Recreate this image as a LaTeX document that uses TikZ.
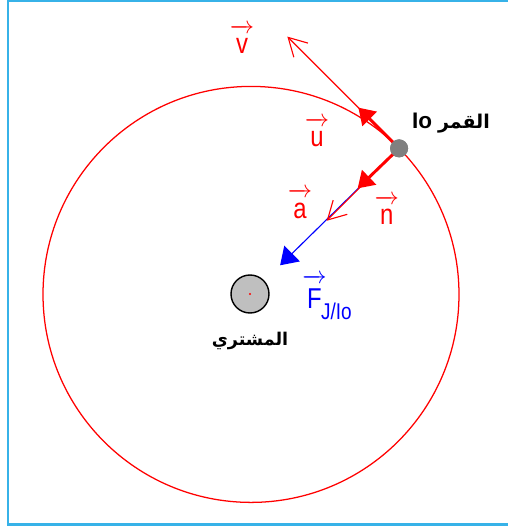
\documentclass[tikz,border=0pt]{standalone}
\usepackage{fontspec}
\setmainfont{Liberation Sans}
\newfontfamily\arabicfont[Script=Arabic]{DejaVu Sans}
\TeXXeTstate=1
\usetikzlibrary{arrows.meta,calc}
\definecolor{framec}{RGB}{55,178,232}
\newcommand{\vecname}[1]{\setbox0\hbox{\scalebox{1}[1.2]{#1}}%
  $\overrightarrow{\hbox{\kern3.5pt\rule{0pt}{\dimexpr\ht0+4.5pt\relax}\box0\kern3.5pt}}$}

\begin{document}
\begin{tikzpicture}[
  font=\fontsize{17}{20}\selectfont,
  >=Stealth,
  orbit/.style={red, line width=0.9pt},
  planet/.style={circle, draw=black, fill=black!25, line width=1pt, minimum size=0.95cm, inner sep=0pt},
  moon/.style={circle, fill=black!50, minimum size=0.45cm, inner sep=0pt},
  vecl/.style={text=red, inner sep=0pt, anchor=base},
  bodyl/.style={font=\fontsize{15}{18}\selectfont\bfseries, inner sep=0pt},
  thinv/.style={red, line width=0.8pt, -{Straight Barb[length=4.5mm,width=5mm]}},
  unitv/.style={red, line width=2.1pt, -{Triangle[length=4mm,width=5mm]}},
  forcev/.style={blue, line width=0.8pt, -{Triangle[length=4.2mm,width=5.5mm]}},
]
  \useasboundingbox (0,0) rectangle (12.70,13.15);

  % Frame
  \draw[framec, line width=1.8pt] (12.70,13.12) -- (0.20,13.12) -- (0.20,0.04) -- (12.70,0.04);

  % Orbit and Jupiter
  \coordinate (orbitc) at (6.275,5.79);
  \draw[orbit] (orbitc) circle (5.20);
  \node[planet] (jupiter) at (6.25,5.80) {};
  \fill[red] (jupiter.center) circle (0.03);
  \node[bodyl, font=\fontsize{12.5}{15}\selectfont\bfseries] (jupiterlbl) at (6.25,4.62)
    {\arabicfont\beginR المشتري\endR};

  % Io on the orbit
  \node[moon] (io) at ($(orbitc)+(44.6:5.20)$) {};
  \coordinate (vtip) at ($(io)+(135:3.95)$);
  \coordinate (utip) at ($(io)+(135:1.44)$);
  \coordinate (ntip) at ($(io)+(224:1.44)$);
  \coordinate (atip) at ($(io)+(225:2.56)$);
  \coordinate (ftip) at ($(io)+(224.5:4.17)$);

  % Vectors at Io
  \draw[forcev] (io.center) -- (ftip);
  \draw[thinv] (io.center) -- (atip);
  \draw[thinv] (io.center) -- (vtip);
  \draw[unitv] (io.center) -- (utip);
  \draw[unitv] (io.center) -- (ntip);
  \node[moon] at (io) {};

  % Labels
  \node[vecl] (vlbl) at (6.05,11.82) {\vecname{v}};
  \node[vecl] (ulbl) at (7.925,9.475) {\vecname{u}};
  \node[vecl] (albl) at (7.50,7.70) {\vecname{a}};
  \node[vecl] (nlbl) at (9.67,7.525) {\vecname{n}};
  \node[vecl, text=blue, anchor=base west] (flbl) at (7.55,5.45)
    {\vecname{F}\kern-4pt\raisebox{-8pt}{\fontsize{13.5}{15}\selectfont\scalebox{1}[1.2]{J/Io}}};
  \node[bodyl] (iolbl) at (11.275,10.075)
    {\beginR{\arabicfont\fontsize{13.5}{16}\selectfont القمر} \beginL\fontsize{16}{18}\selectfont Io\endL\endR};
\end{tikzpicture}
\end{document}
